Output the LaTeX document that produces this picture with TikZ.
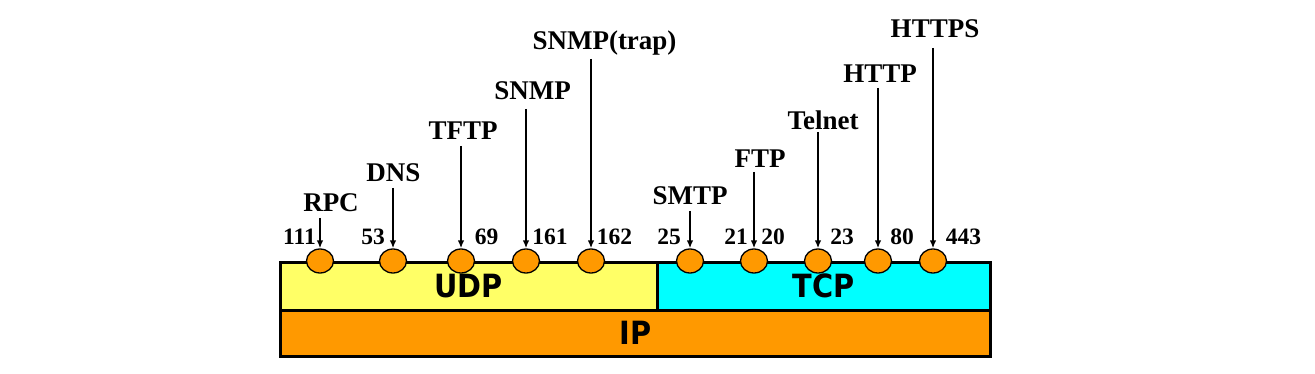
\documentclass[tikz,border=0pt]{standalone}
\usepackage{fontspec}
\setmainfont{Liberation Serif}
\newfontfamily\layerfont[FakeStretch=0.9]{DejaVu Sans}
\usetikzlibrary{arrows.meta,shapes.geometric}
\definecolor{udpyellow}{HTML}{FFFF66}
\definecolor{tcpcyan}{HTML}{00FFFF}
\definecolor{iporange}{HTML}{FF9900}

\begin{document}
\begin{tikzpicture}[x=1pt,y=-1pt,
  layer/.style={draw,line width=2.6pt,anchor=north west,inner sep=0pt,
    font=\layerfont\fontsize{32}{34}\selectfont\bfseries},
  port/.style={ellipse,draw,fill=iporange,line width=1.3pt,
    minimum width=27pt,minimum height=24pt,inner sep=0pt},
  proto/.style={anchor=base,inner sep=0pt,font=\fontsize{27}{30}\selectfont\bfseries},
  num/.style={anchor=base,inner sep=0pt,font=\fontsize{23.5}{26}\selectfont\bfseries},
  feed/.style={line width=1.6pt,-{Latex[length=8pt,width=6.5pt]}}]
\useasboundingbox (0,0) rectangle (1315,374);
% layers
\node[layer,fill=iporange,minimum width=710pt,minimum height=46pt] (ip) at (279,309) {IP};
\node[layer,fill=udpyellow,minimum width=377pt,minimum height=48pt] (udp) at (279,261) {UDP};
\node[layer,fill=tcpcyan,minimum width=333pt,minimum height=48pt] (tcp) at (656,261) {TCP};
% ports on the udp/tcp line
\node[port] (p111) at (320,261) {};
\node[port] (p53) at (393,261) {};
\node[port] (p69) at (461,261) {};
\node[port] (p161) at (526,261) {};
\node[port] (p162) at (591,261) {};
\node[port] (p25) at (690,261) {};
\node[port] (p21) at (754,261) {};
\node[port] (p23) at (818,261) {};
\node[port] (p80) at (878,261) {};
\node[port] (p443) at (933,261) {};
% port numbers
\node[num] (n111) at (299.5,244) {111};
\node[num] (n53) at (373,244) {53};
\node[num] (n69) at (486.5,244) {69};
\node[num] (n161) at (550,244) {161};
\node[num] (n162) at (614.5,244) {162};
\node[num] (n25) at (669,244) {25};
\node[num] (n21) at (736,244) {21};
\node[num] (n20) at (773,244) {20};
\node[num] (n23) at (842,244) {23};
\node[num] (n80) at (902,244) {80};
\node[num] (n443) at (963.5,244) {443};
% protocols
\node[proto] (rpc) at (331,212) {RPC};
\node[proto] (dns) at (393.5,182) {DNS};
\node[proto] (tftp) at (463,140) {TFTP};
\node[proto] (snmp) at (532.5,100) {SNMP};
\node[proto] (trap) at (604.5,50) {SNMP(trap)};
\node[proto] (smtp) at (690,205) {SMTP};
\node[proto] (ftp) at (760,168) {FTP};
\node[proto] (telnet) at (823,130) {Telnet};
\node[proto] (http) at (880,83) {HTTP};
\node[proto] (https) at (935,38) {HTTPS};
% arrows down to the ports
\draw[feed] ([yshift=-6pt]rpc.base -| p111.north) -- (p111.north);
\draw[feed] ([yshift=-6pt]dns.base -| p53.north) -- (p53.north);
\draw[feed] ([yshift=-6pt]tftp.base -| p69.north) -- (p69.north);
\draw[feed] ([yshift=-9pt]snmp.base -| p161.north) -- (p161.north);
\draw[feed] ([yshift=-9pt]trap.base -| p162.north) -- (p162.north);
\draw[feed] ([yshift=-6pt]smtp.base -| p25.north) -- (p25.north);
\draw[feed] ([yshift=-4pt]ftp.base -| p21.north) -- (p21.north);
\draw[feed] ([yshift=-2pt]telnet.base -| p23.north) -- (p23.north);
\draw[feed] ([yshift=-5pt]http.base -| p80.north) -- (p80.north);
\draw[feed] ([yshift=-10pt]https.base -| p443.north) -- (p443.north);
\end{tikzpicture}
\end{document}
